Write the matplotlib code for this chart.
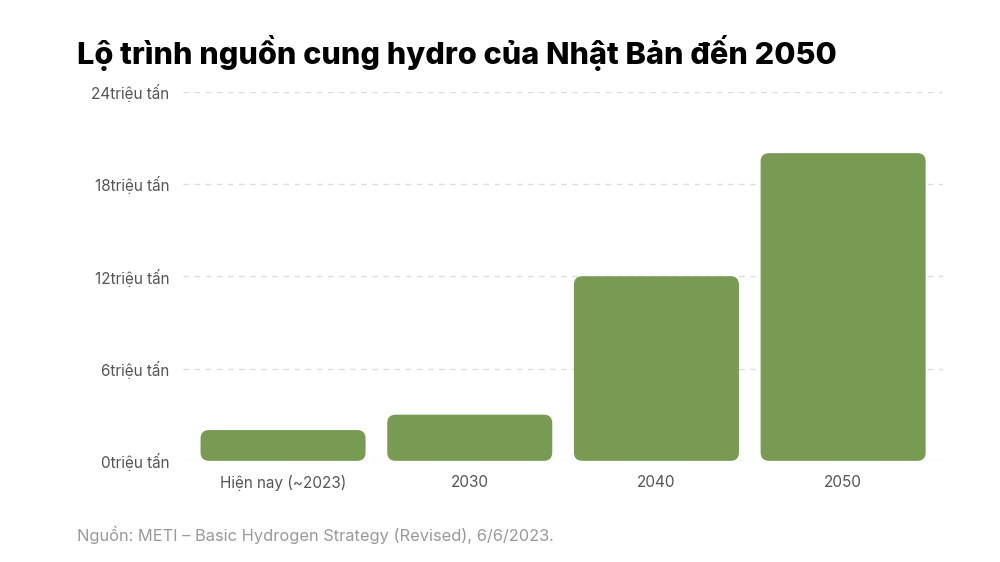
import matplotlib
matplotlib.use("Agg")
import matplotlib.pyplot as plt
from matplotlib.patches import FancyBboxPatch

categories = ["Hiện nay (~2023)", "2030", "2040", "2050"]
values = [2, 3, 12, 20]
yticks = [0, 6, 12, 18, 24]
ytick_labels = [f"{v}triệu tấn" for v in yticks]
title = "Lộ trình nguồn cung hydro của Nhật Bản đến 2050"
source = "Nguồn: METI – Basic Hydrogen Strategy (Revised), 6/6/2023."

BAR = "#789a53"
plt.rcParams['font.family'] = ['Inter', 'DejaVu Sans']

XL = (-0.536, 3.535)
AX = [0.183, 0.18, 0.760, 0.657]

fig = plt.figure(figsize=(10, 5.62), dpi=100)
fig.patch.set_facecolor("white")
ax = fig.add_axes(AX)

x = list(range(len(categories)))
bars = ax.bar(x, values, width=0.884, color="none")
ax.set_xlim(*XL)
ax.set_ylim(0, 24)

aspect = (24 / (AX[3] * 562)) / ((XL[1] - XL[0]) / (AX[2] * 1000))
for b in bars:
    bx, by, bw, bh = b.get_x(), b.get_y(), b.get_width(), b.get_height()
    p = FancyBboxPatch((bx, by), bw, bh,
                       boxstyle="round,pad=0,rounding_size=0.045",
                       mutation_aspect=aspect, linewidth=0, facecolor=BAR,
                       transform=ax.transData, zorder=3)
    ax.add_patch(p)
    b.remove()

ax.set_yticks(yticks)
ax.set_yticklabels(ytick_labels)
ax.set_xticks(x)
ax.set_xticklabels(categories)
ax.tick_params(axis="both", length=0, labelsize=11, colors="#555555")
ax.tick_params(axis="y", pad=10)
ax.tick_params(axis="x", pad=10)
ax.yaxis.grid(True, linestyle=(0, (4, 4)), color="#dddddd", linewidth=1)
ax.set_axisbelow(True)
for s in ax.spines.values():
    s.set_visible(False)

fig.text(0.077, 0.905, title, fontsize=22.1, fontweight="heavy", color="#000000",
         ha="left", va="center")
fig.text(0.077, 0.048, source, fontsize=11.8, color="#999999", ha="left", va="center")

fig.savefig("out.png", dpi=100, facecolor="white")
